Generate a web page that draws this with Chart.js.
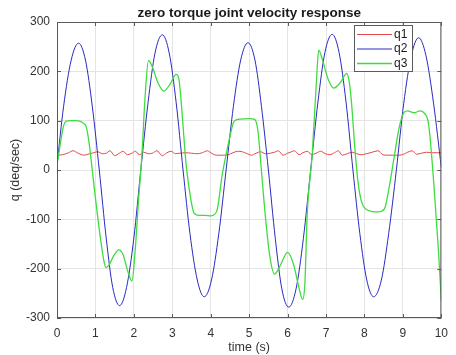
<!DOCTYPE html>
<html>
<head>
<meta charset="utf-8">
<script src="https://cdn.jsdelivr.net/npm/chart.js@4.4.0/dist/chart.umd.min.js"></script>
<style>
  html, body { margin: 0; padding: 0; background: #fff; }
</style>
</head>
<body>
<canvas id="chart" width="456" height="355"></canvas>
<script>
// axis ticks
const xTicks = [0, 1, 2, 3, 4, 5, 6, 7, 8, 9, 10]
const yTicks = [-300, -200, -100, 0, 100, 200, 300]

// q1 - small wiggle around 30..40
const q1Time = [0, 0.15, 0.3, 0.42, 0.55, 0.7, 0.85, 0.95, 1.06, 1.18, 1.28, 1.38, 1.5, 1.62, 1.72, 1.83, 1.95, 2.04, 2.14, 2.25,
  2.38, 2.48, 2.6, 2.74, 2.86, 2.97, 3.08, 3.2, 3.35, 3.5, 3.65, 3.78, 3.91, 4.04, 4.15, 4.3, 4.45, 4.58, 4.7, 4.82,
  4.95, 5.06, 5.18, 5.3, 5.42, 5.55, 5.66, 5.76, 5.88, 6.0, 6.1, 6.18, 6.3, 6.4, 6.52, 6.62, 6.74, 6.86, 6.98, 7.1,
  7.22, 7.32, 7.42, 7.55, 7.68, 7.8, 7.92, 8.05, 8.2, 8.35, 8.48, 8.6, 8.75, 8.9, 9.02, 9.12, 9.24, 9.36, 9.48, 9.62,
  9.78, 9.9, 10]
const q1Vals = [30, 31, 35, 39, 34, 30, 33, 35, 37, 33, 34, 39, 29, 34, 38, 31, 34, 38, 31, 36,
  33, 34, 39, 29, 35, 38, 33, 34, 35, 34, 33, 35, 39, 33, 30, 30, 31, 35, 38, 37,
  33, 30, 34, 37, 33, 34, 36, 39, 30, 34, 37, 39, 31, 35, 38, 31, 34, 38, 33, 31,
  35, 39, 30, 33, 36, 33, 31, 33, 36, 39, 31, 30, 30, 30, 32, 36, 39, 32, 34, 36,
  35, 35, 35]

// q2 - large swing
const q2Time = [0, 0.17, 0.37, 0.56, 0.74, 0.92, 1.1, 1.28, 1.45, 1.63, 1.81, 2.0, 2.18, 2.37, 2.55, 2.74,
  2.92, 3.1, 3.28, 3.46, 3.65, 3.83, 4.02, 4.21, 4.4, 4.59, 4.78, 4.97, 5.15, 5.32, 5.5,
  5.68, 5.85, 6.03, 6.22, 6.41, 6.6, 6.79, 6.97, 7.16, 7.34, 7.52, 7.7, 7.88, 8.06, 8.24,
  8.44, 8.63, 8.83, 9.02, 9.22, 9.41, 9.6, 9.8, 10]
const q2Vals = [10, 128, 223, 257, 223, 128, 0, -138, -238, -275, -238, -138, 0, 137, 237, 274,
  237, 137, 0, -129, -223, -257, -223, -129, 0, 129, 223, 258, 223, 129, 0,
  -139, -241, -278, -241, -139, 0, 138, 238, 275, 238, 138, 0, -129, -223, -257,
  -223, -129, 0, 134, 232, 268, 232, 134, 5]

// q3 - plateaus and double humps
const q3Time = [0, 0.07, 0.16, 0.24, 0.35, 0.5, 0.62, 0.7, 0.76, 0.84, 0.93, 1.02, 1.14, 1.23, 1.28, 1.36, 1.46, 1.61,
  1.72, 1.84, 1.95, 2.04, 2.12, 2.21, 2.29, 2.38, 2.5, 2.62, 2.78, 2.95, 3.1, 3.17, 3.23, 3.36, 3.49, 3.57,
  3.7, 3.85, 4.0, 4.1, 4.17, 4.3, 4.41, 4.51, 4.61, 4.75, 5.0, 5.15, 5.23, 5.32, 5.4, 5.53, 5.66, 5.8, 6.0,
  6.15, 6.3, 6.39, 6.45, 6.51, 6.64, 6.75, 6.81, 6.9, 7.05, 7.2, 7.38, 7.54, 7.6, 7.66, 7.75, 7.83, 7.92,
  8.05, 8.35, 8.52, 8.64, 8.77, 8.9, 9.03, 9.12, 9.3, 9.45, 9.55, 9.67, 9.8, 9.92, 10]
const q3Vals = [10, 45, 86, 99, 100, 100, 98, 94, 88, 52, -9, -70, -144, -188, -198, -192, -176, -162,
  -172, -205, -225, -157, -63, 31, 146, 222, 205, 178, 160, 175, 194, 185, 139, 11, -63, -88,
  -92, -92, -93, -90, -80, -9, 35, 72, 99, 103, 104, 102, 78, -2, -76, -171, -211, -195, -167,
  -190, -240, -262, -230, -90, 31, 179, 243, 225, 185, 166, 178, 196, 180, 139, 45, -23, -63,
  -80, -85, -79, -36, 25, 85, 117, 120, 116, 120, 116, 92, -23, -157, -265]

const colors = ['#e24a4a', '#2a2ac0', '#3fdc3f']

const toPoints = (ts, vs) => ts.map((t, i) => ({ x: t, y: vs[i] }))

const axisFont = { family: 'Liberation Sans, Arial, sans-serif', size: 12 }

// frame, inward ticks, title, axis labels and legend, MATLAB style
const decorations = {
  id: 'decorations',
  afterDatasetsDraw(chart) {
    const { ctx, chartArea: a, scales } = chart
    ctx.save()
    ctx.strokeStyle = '#5a5a5a'
    ctx.lineWidth = 1
    ctx.strokeRect(a.left + 0.5, a.top + 0.5, a.right - a.left - 1, a.bottom - a.top - 1)
    ctx.beginPath()
    xTicks.forEach(v => {
      const px = Math.round(scales.x.getPixelForValue(v)) + 0.5
      ctx.moveTo(px, a.bottom); ctx.lineTo(px, a.bottom - 4)
      ctx.moveTo(px, a.top); ctx.lineTo(px, a.top + 4)
    })
    yTicks.forEach(v => {
      const py = Math.round(scales.y.getPixelForValue(v)) + 0.5
      ctx.moveTo(a.left, py); ctx.lineTo(a.left + 4, py)
      ctx.moveTo(a.right, py); ctx.lineTo(a.right - 4, py)
    })
    ctx.stroke()
    ctx.restore()
  },
  afterDraw(chart) {
    const { ctx, chartArea: a } = chart
    ctx.save()
    ctx.fillStyle = '#1a1a1a'
    ctx.textAlign = 'center'
    ctx.textBaseline = 'middle'
    ctx.font = 'bold 13.5px Liberation Sans, Arial, sans-serif'
    ctx.fillText('zero torque joint velocity response', (a.left + a.right) / 2, 13)

    ctx.fillStyle = '#333'
    ctx.font = '12.5px Liberation Sans, Arial, sans-serif'
    ctx.fillText('time (s)', (a.left + a.right) / 2, 348)
    ctx.save()
    ctx.translate(16, (a.top + a.bottom) / 2)
    ctx.rotate(-Math.PI / 2)
    ctx.fillText('q (deq/sec)', 0, 0)
    ctx.restore()

    // legend box
    const bx = 354, by = 25, bw = 58, bh = 46
    ctx.fillStyle = '#fff'
    ctx.fillRect(bx, by, bw, bh)
    ctx.strokeStyle = '#5a5a5a'
    ctx.lineWidth = 1
    ctx.strokeRect(bx + 0.5, by + 0.5, bw, bh)
    ctx.textAlign = 'left'
    ctx.font = '12px Liberation Sans, Arial, sans-serif'
    chart.data.datasets.forEach((ds, i) => {
      const y = by + 9.5 + i * 14.5
      ctx.strokeStyle = ds.borderColor
      ctx.lineWidth = ds.borderWidth
      ctx.beginPath()
      ctx.moveTo(357, y); ctx.lineTo(392, y)
      ctx.stroke()
      ctx.fillStyle = '#1a1a1a'
      ctx.fillText(ds.label, 394, y)
    })
    ctx.restore()
  }
}

new Chart(document.getElementById('chart'), {
  type: 'line',
  data: {
    datasets: [
      { label: 'q1', data: toPoints(q1Time, q1Vals), borderColor: colors[0], borderWidth: 1, order: 2 },
      { label: 'q2', data: toPoints(q2Time, q2Vals), borderColor: colors[1], borderWidth: 1, order: 1 },
      { label: 'q3', data: toPoints(q3Time, q3Vals), borderColor: colors[2], borderWidth: 1.3, order: 0 },
    ],
  },
  options: {
    responsive: false,
    animation: false,
    layout: { padding: { left: 0, right: 8, top: 22, bottom: 0 } },
    elements: {
      point: { radius: 0 },
      line: { cubicInterpolationMode: 'monotone', fill: false },
    },
    plugins: { legend: { display: false }, tooltip: { enabled: false }, title: { display: false } },
    scales: {
      x: {
        type: 'linear',
        min: 0,
        max: 10,
        afterFit: (s) => { s.height = 37 },
        afterBuildTicks: (s) => { s.ticks = xTicks.map(v => ({ value: v })) },
        grid: { color: '#e4e4e4', drawTicks: false },
        border: { display: false },
        ticks: { font: axisFont, color: '#333', padding: 8, maxRotation: 0 },
      },
      y: {
        type: 'linear',
        min: -300,
        max: 300,
        afterFit: (s) => { s.width = 57 },
        afterBuildTicks: (s) => { s.ticks = yTicks.map(v => ({ value: v })) },
        grid: { color: '#e4e4e4', drawTicks: false },
        border: { display: false },
        ticks: { font: axisFont, color: '#333', padding: 7 },
      },
    },
  },
  plugins: [decorations],
})
</script>
</body>
</html>
